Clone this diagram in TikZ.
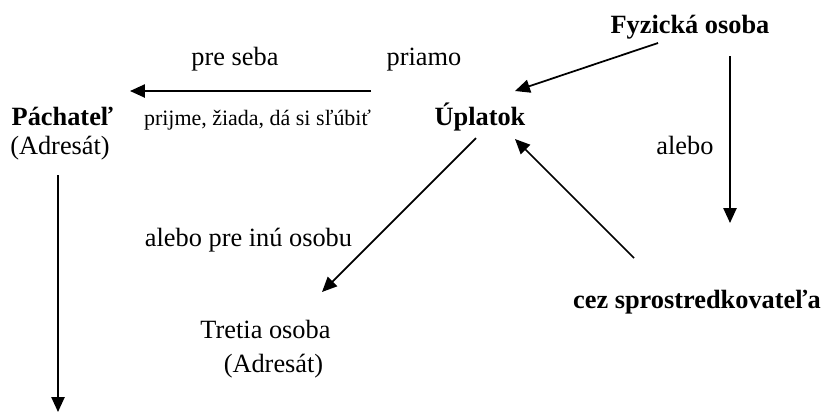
\documentclass[tikz,border=0pt]{standalone}
\usepackage{fontspec}
\setmainfont{Liberation Serif}
\usetikzlibrary{arrows.meta,calc}

\tikzset{
  lbl/.style={inner sep=0pt, anchor=base, font=\fontsize{12}{14}\selectfont},
  lblsmall/.style={inner sep=0pt, anchor=base, font=\fontsize{10}{12}\selectfont},
  lblbold/.style={lbl, font=\fontsize{12}{14}\selectfont\bfseries},
  arr/.style={line width=0.8pt, -{Triangle[length=6.8pt,width=6pt]}}
}

\begin{document}
\begin{tikzpicture}[x=0.016cm, y=-0.016cm]
\useasboundingbox (0,0) rectangle (829,414);

% main nodes
\node[lblbold] (fyz) at (690,33) {Fyzická osoba};
\node[lblbold] (upl) at (480,125) {Úplatok};
\node[lblbold] (pach) at (62.5,125) {Páchateľ};
\node[lbl] (pachadr) at (60,154) {(Adresát)};
\node[lbl] (tret) at (265.5,338) {Tretia osoba};
\node[lbl] (tretadr) at (273.5,372) {(Adresát)};
\node[lblbold] (cez) at (697,308) {cez sprostredkovateľa};

% labels
\node[lbl] (preseba) at (235,65) {pre seba};
\node[lbl] (priamo) at (424,65) {priamo};
\node[lblsmall] (prijme) at (257.5,125) {prijme, žiada, dá si sľúbiť};
\node[lbl] (alebo) at (685,154) {alebo};
\node[lbl] (preinu) at (248.5,246) {alebo pre inú osobu};

% free ends
\coordinate (fyzend) at ($(fyz.base)+(40,190)$);
\coordinate (pachend) at ($(pachadr.base)+(-2,258)$);

% arrows
\draw[arr] ($(upl.base)+(-109,-34)$) -- ($(pach.base)+(67.5,-34)$);
\draw[arr] ($(fyz.base)+(-32,10)$) -- ($(upl.base)+(35,-34)$);
\draw[arr] ($(fyz.base)+(40,23)$) -- (fyzend);
\draw[arr] ($(upl.base)+(-4,13)$) -- ($(tret.base)+(56.5,-46)$);
\draw[arr] ($(cez.base)+(-63,-50)$) -- ($(upl.base)+(35,14)$);
\draw[arr] ($(pachadr.base)+(-2,21)$) -- (pachend);
\end{tikzpicture}
\end{document}
